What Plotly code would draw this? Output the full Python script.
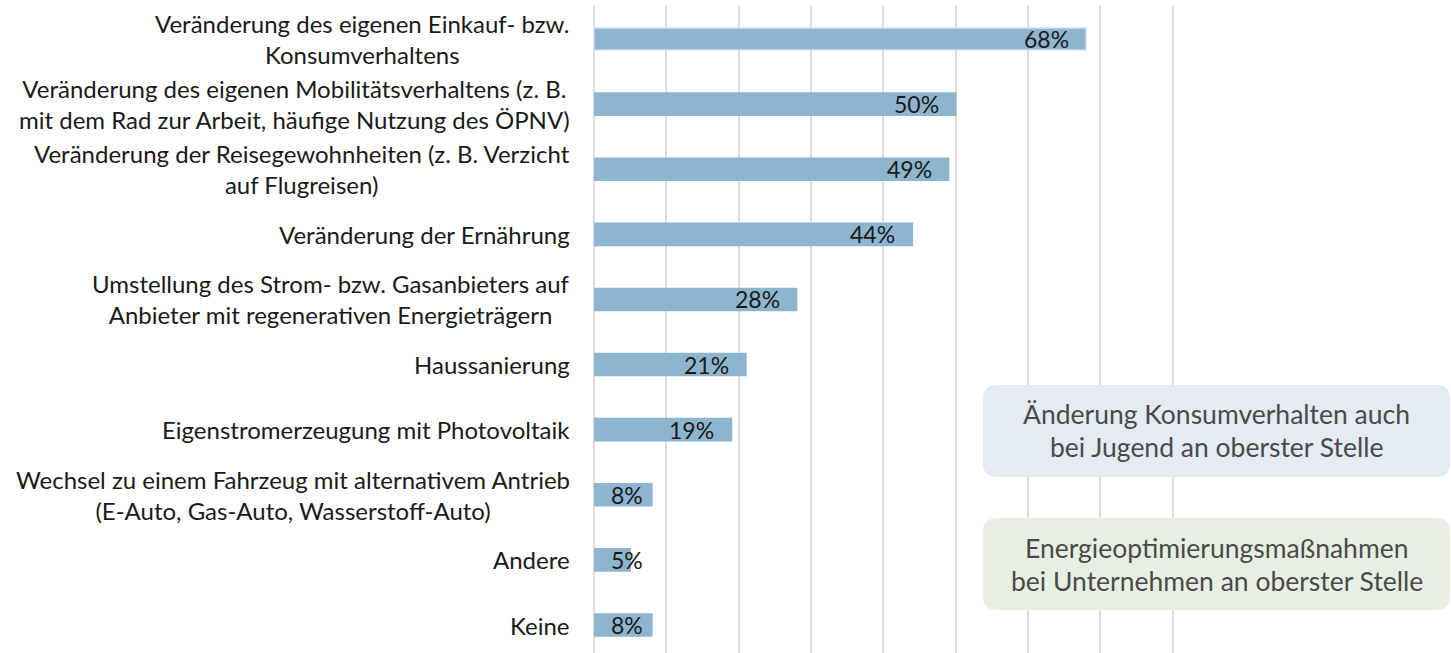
import plotly.graph_objects as go

categories = [
    "Veränderung des eigenen Einkauf- bzw.<br>Konsumverhaltens",
    "Veränderung des eigenen Mobilitätsverhaltens (z. B.<br>mit dem Rad zur Arbeit, häufige Nutzung des ÖPNV)",
    "Veränderung der Reisegewohnheiten (z. B. Verzicht<br>auf Flugreisen)",
    "Veränderung der Ernährung",
    "Umstellung des Strom- bzw. Gasanbieters auf<br>Anbieter mit regenerativen Energieträgern",
    "Haussanierung",
    "Eigenstromerzeugung mit Photovoltaik",
    "Wechsel zu einem Fahrzeug mit alternativem Antrieb<br>(E-Auto, Gas-Auto, Wasserstoff-Auto)",
    "Andere",
    "Keine",
]
values = [68, 50, 49, 44, 28, 21, 19, 8, 5, 8]
value_labels = ["68%", "50%", "49%", "44%", "28%", "21%", "19%", "8%", "5%", "8%"]
box_texts = [
    "Änderung Konsumverhalten auch<br>bei Jugend an oberster Stelle",
    "Energieoptimierungsmaßnahmen<br>bei Unternehmen an oberster Stelle",
]

W, H = 1451, 653
ML, MR, MT, MB = 594, 276, 6, 0
FONT = "Lato, 'Noto Sans', sans-serif"
LABEL_SIZE = 24

ypos = list(range(len(categories)))
fig = go.Figure()
fig.add_trace(go.Bar(
    x=values, y=ypos, orientation="h",
    marker=dict(color="#8EB5D0",
                line=dict(color=["#D5E1EC"] + ["#8EB5D0"] * (len(values) - 1), width=1.5)),
    width=0.34, hoverinfo="skip",
))

annotations = []
for i, (c, v, t) in enumerate(zip(categories, values, value_labels)):
    annotations.append(dict(
        x=0, xref="paper", y=i, yref="y", text=c, showarrow=False,
        xanchor="right", yanchor="middle", align="center", xshift=-22,
        font=dict(family=FONT, size=LABEL_SIZE, color="#1a1a1a"),
    ))
    if v >= 10:
        annotations.append(dict(x=v, y=i, xref="x", yref="y", text=t, showarrow=False,
                                xanchor="right", yanchor="middle", xshift=-15,
                                font=dict(family=FONT, size=23, color="#1a1a1a")))
    else:
        annotations.append(dict(x=0, y=i, xref="x", yref="y", text=t, showarrow=False,
                                xanchor="left", yanchor="middle", xshift=15,
                                font=dict(family=FONT, size=23, color="#1a1a1a")))

pw = W - ML - MR
ph = H - MT - MB
def px2paper(px, py):
    return (px - ML) / pw, (H - MB - py) / ph

shapes = []
boxes = [((983, 385, 1450, 477), "#E4EBF2"), ((983, 518, 1450, 610), "#E7EFE3")]
for (x0p, y0p, x1p, y1p), col in boxes:
    r = 14
    rx = r / pw
    ry = r / ph
    x0, y1 = px2paper(x0p, y0p)
    x1, y0 = px2paper(x1p, y1p)
    path = (f"M {x0+rx},{y0} L {x1-rx},{y0} Q {x1},{y0} {x1},{y0+ry} "
            f"L {x1},{y1-ry} Q {x1},{y1} {x1-rx},{y1} L {x0+rx},{y1} "
            f"Q {x0},{y1} {x0},{y1-ry} L {x0},{y0+ry} Q {x0},{y0} {x0+rx},{y0} Z")
    shapes.append(dict(type="path", path=path, xref="paper", yref="paper",
                       fillcolor=col, line=dict(width=0), layer="above"))

for ((x0p, y0p, x1p, y1p), _), txt in zip(boxes, box_texts):
    cx, cy = px2paper((x0p + x1p) / 2, (y0p + y1p) / 2)
    lines = txt.split("<br>")
    n = len(lines)
    for k, ln in enumerate(lines):
        annotations.append(dict(x=cx, y=cy, xref="paper", yref="paper", text=ln,
                                showarrow=False, xanchor="center", yanchor="middle",
                                yshift=((n - 1) / 2 - k) * 33,
                                font=dict(family=FONT, size=26.5, color="#4a4a4a")))

top = -(39 - MT) / 65.1
bottom = 9 + (H - MB - 625) / 65.1

fig.update_layout(
    width=W, height=H,
    margin=dict(l=ML, r=MR, t=MT, b=MB, pad=0),
    plot_bgcolor="white", paper_bgcolor="white",
    showlegend=False,
    xaxis=dict(range=[0, 80.3], dtick=10, tick0=0, showgrid=True, gridcolor="#DDDDDD", gridwidth=1.5,
               showticklabels=False, zeroline=True, zerolinecolor="#DDDDDD", zerolinewidth=1.5,
               showline=False, fixedrange=True),
    yaxis=dict(range=[bottom, top], showticklabels=False, showgrid=False, zeroline=False,
               showline=False, fixedrange=True),
    annotations=annotations,
    shapes=shapes,
    font=dict(family=FONT),
)

fig.write_html("out.html", config={"displayModeBar": False},
               post_script="document.body.style.margin='0';document.body.style.overflow='hidden';")
